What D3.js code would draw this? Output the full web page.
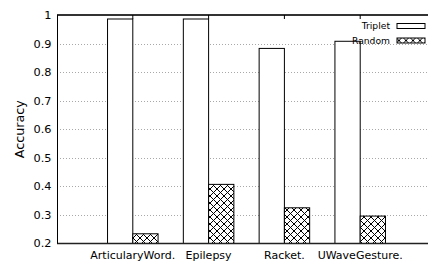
<!DOCTYPE html>
<html>
<head>
<meta charset="utf-8">
<script src="https://cdn.jsdelivr.net/npm/d3@7"></script>
<style>
  body { margin: 0; background: #fff; }
  svg { display: block; font-family: "DejaVu Sans", Verdana, sans-serif; }
</style>
</head>
<body>
<svg id="chart" width="428" height="264"></svg>
<script>
// data
var categories = ["ArticularyWord.", "Epilepsy", "Racket.", "UWaveGesture."];
var seriesNames = ["Triplet", "Random"];
var triplet = [0.986, 0.986, 0.883, 0.908];
var random = [0.234, 0.407, 0.325, 0.296];
var yTicks = [0.2, 0.3, 0.4, 0.5, 0.6, 0.7, 0.8, 0.9, 1];

var svg = d3.select("#chart"),
    margin = {top: 15, left: 57},
    plotBottom = 243.5,
    plotRight = 436;

var x = d3.scaleLinear().domain([-1, categories.length]).range([margin.left, plotRight]);
var y = d3.scaleLinear().domain([0.2, 1]).range([plotBottom, margin.top]);
var barW = x(1 / 3) - x(0);

var defs = svg.append("defs");
var pat = defs.append("pattern")
    .attr("id", "hatch")
    .attr("patternUnits", "userSpaceOnUse")
    .attr("width", 7).attr("height", 7);
pat.append("rect").attr("width", 7).attr("height", 7).attr("fill", "#fff");
pat.append("path").attr("d", "M0,0L7,7M7,0L0,7M-1,6L1,8M6,-1L8,1")
    .attr("stroke", "#000").attr("stroke-width", 1);

var g = svg.append("g");

// grid
g.selectAll(".grid")
    .data(yTicks.filter(function(d) { return d > 0.2 && d < 1; }))
    .enter().append("line")
    .attr("x1", margin.left).attr("x2", plotRight)
    .attr("y1", function(d) { return Math.round(y(d)) + 0.5; })
    .attr("y2", function(d) { return Math.round(y(d)) + 0.5; })
    .attr("stroke", "#a8a8a8")
    .attr("stroke-dasharray", "1,2");

// bars
var rows = categories.map(function(c, i) { return {id: c, i: i, vals: [triplet[i], random[i]]}; });

var grp = g.selectAll(".cat")
    .data(rows)
    .enter().append("g");

grp.selectAll("rect")
    .data(function(d) { return d.vals.map(function(v, k) { return {i: d.i, k: k, v: v}; }); })
    .enter().append("rect")
    .attr("x", function(d) { return x(d.i) + (d.k - 1) * barW; })
    .attr("y", function(d) { return y(d.v); })
    .attr("width", barW)
    .attr("height", function(d) { return plotBottom - y(d.v); })
    .attr("fill", function(d) { return d.k === 0 ? "#fff" : "url(#hatch)"; })
    .attr("stroke", "#000")
    .attr("stroke-width", 1);

// border
g.append("line").attr("x1", margin.left).attr("x2", 428)
    .attr("y1", margin.top).attr("y2", margin.top)
    .attr("stroke", "#333").attr("stroke-width", 2);
g.append("line").attr("x1", margin.left).attr("x2", 428)
    .attr("y1", plotBottom).attr("y2", plotBottom)
    .attr("stroke", "#222").attr("stroke-width", 1.5);
g.append("line").attr("x1", margin.left + 0.5).attr("x2", margin.left + 0.5)
    .attr("y1", margin.top).attr("y2", plotBottom)
    .attr("stroke", "#000").attr("stroke-width", 1);

// top ticks
g.selectAll(".ttick")
    .data(categories)
    .enter().append("line")
    .attr("x1", function(d, i) { return x(i); })
    .attr("x2", function(d, i) { return x(i); })
    .attr("y1", margin.top).attr("y2", margin.top + 4)
    .attr("stroke", "#000");

// y tick labels
g.selectAll(".ylab")
    .data(yTicks)
    .enter().append("text")
    .attr("x", 51.5)
    .attr("y", function(d) { return y(d); })
    .attr("dy", "0.35em")
    .attr("text-anchor", "end")
    .attr("font-size", 11.3)
    .text(function(d) { return d === 1 ? "1" : d3.format(".1f")(d); });

// x labels
g.selectAll(".xlab")
    .data(categories)
    .enter().append("text")
    .attr("x", function(d, i) { return x(i); })
    .attr("y", 258.5)
    .attr("text-anchor", "middle")
    .attr("font-size", 11)
    .text(function(d) { return d; });

// y axis title
svg.append("text")
    .attr("transform", "translate(23.5," + (y(0.6)) + ") rotate(-90)")
    .attr("text-anchor", "middle")
    .attr("font-size", 12.7)
    .text("Accuracy");

// legend
var legend = svg.selectAll(".legend")
    .data(seriesNames)
    .enter().append("g")
    .attr("transform", function(d, i) { return "translate(0," + (26 + 14.5 * i) + ")"; });

legend.append("rect")
    .attr("x", 397).attr("y", -2.5)
    .attr("width", 28).attr("height", 5)
    .attr("fill", function(d, i) { return i === 0 ? "#fff" : "url(#hatch)"; })
    .attr("stroke", "#000");

legend.append("text")
    .attr("x", 390)
    .attr("dy", "0.35em")
    .attr("text-anchor", "end")
    .attr("font-size", 9.2)
    .text(function(d) { return d; });
</script>
</body>
</html>
